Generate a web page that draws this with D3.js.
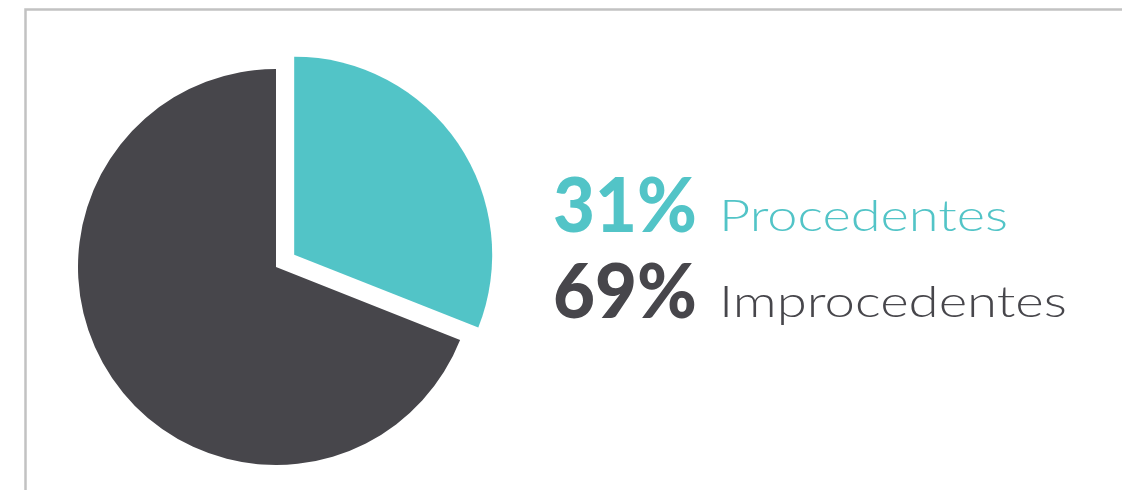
<!DOCTYPE html>
<html>
<head>
<meta charset="utf-8">
<script src="https://cdn.jsdelivr.net/npm/d3@7"></script>
<style>
  html, body { margin: 0; padding: 0; background: #fff; }
  svg { display: block; }
</style>
</head>
<body>
<div id="chart"></div>
<script>
// data
var labels = ["Procedentes", "Improcedentes"];
var values = [31, 69];
var colors = ["#52c4c7", "#47464b"];
var exploded = [true, false];

var width = 1122, height = 490;
var cx = 276, cy = 267, radius = 198, explode = 22;

var svg = d3.select("#chart").append("svg")
    .attr("width", width)
    .attr("height", height);

// frame (only top/left visible in the picture)
svg.append("rect")
    .attr("x", 25.5).attr("y", 9.5)
    .attr("width", 1120).attr("height", 500)
    .attr("fill", "none")
    .attr("stroke", "#c2c2c2")
    .attr("stroke-width", 2.5);

var pie = d3.pie().sort(null).value(function (d) { return d; });
var arc = d3.arc().innerRadius(0).outerRadius(radius);
var arcs = pie(values);

var g = svg.append("g").attr("transform", "translate(" + cx + "," + cy + ")");

g.selectAll("path.slice")
    .data(arcs)
    .enter().append("path")
    .attr("class", "slice")
    .attr("d", arc)
    .attr("fill", function (d, i) { return colors[i]; })
    .attr("transform", function (d, i) {
        if (!exploded[i]) return null;
        var mid = (d.startAngle + d.endAngle) / 2;
        return "translate(" + (Math.sin(mid) * explode) + "," + (-Math.cos(mid) * explode) + ")";
    });

// legend text
var total = d3.sum(values);
var rows = [232, 318];
var pctWidth = 144, nameX = 719, nameWidths = [289, 348];

var leg = svg.selectAll("g.legend")
    .data(labels)
    .enter().append("g")
    .attr("class", "legend");

leg.append("text")
    .attr("x", 553)
    .attr("y", function (d, i) { return rows[i]; })
    .attr("fill", function (d, i) { return colors[i]; })
    .style("font-family", "Lato, 'Open Sans', sans-serif")
    .style("font-weight", 900)
    .style("font-size", "76px")
    .attr("textLength", pctWidth)
    .attr("lengthAdjust", "spacingAndGlyphs")
    .text(function (d, i) { return Math.round(values[i] / total * 100) + "%"; });

leg.append("text")
    .attr("x", nameX)
    .attr("y", function (d, i) { return rows[i] - 1; })
    .attr("fill", function (d, i) { return colors[i]; })
    .style("font-family", "Lato, 'Open Sans', sans-serif")
    .style("font-weight", 300)
    .style("font-size", "44px")
    .attr("textLength", function (d, i) { return nameWidths[i]; })
    .attr("lengthAdjust", "spacingAndGlyphs")
    .text(function (d) { return d; });
</script>
</body>
</html>
